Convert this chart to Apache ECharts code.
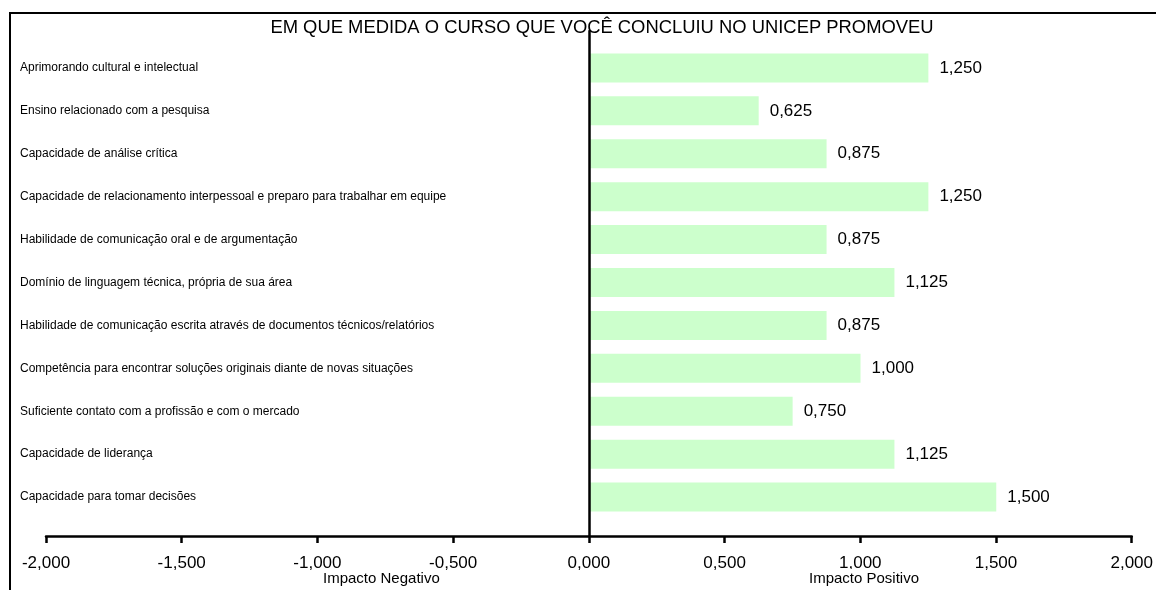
<!DOCTYPE html>
<html>
<head>
<meta charset="utf-8">
<script src="https://cdn.jsdelivr.net/npm/echarts@6/dist/echarts.min.js"></script>
<style>
  html, body { margin: 0; padding: 0; background: #fff; }
  #chart { width: 1156px; height: 590px; }
</style>
</head>
<body>
<div id="chart"></div>
<script>
// categorias (de cima para baixo)
var categorias = [
  'Aprimorando cultural e intelectual',
  'Ensino relacionado com a pesquisa',
  'Capacidade de análise crítica',
  'Capacidade de relacionamento interpessoal e preparo para trabalhar em equipe',
  'Habilidade de comunicação oral e de argumentação',
  'Domínio de linguagem técnica, própria de sua área',
  'Habilidade de comunicação escrita através de documentos técnicos/relatórios',
  'Competência para encontrar soluções originais diante de novas situações',
  'Suficiente contato com a profissão e com o mercado',
  'Capacidade de liderança',
  'Capacidade para tomar decisões'
];
var valores = [1.25, 0.625, 0.875, 1.25, 0.875, 1.125, 0.875, 1.0, 0.75, 1.125, 1.5];
var titulo = 'EM QUE MEDIDA O CURSO QUE VOCÊ CONCLUIU NO UNICEP PROMOVEU';
var eixoMin = -2, eixoMax = 2, eixoPasso = 0.5;
var rotulosEixo = ['Impacto Negativo', 'Impacto Positivo'];

var fonte = '"Liberation Sans", Arial, sans-serif';
function fmt(v) { return v.toFixed(3).replace('.', ','); }

var chart = echarts.init(document.getElementById('chart'));
chart.setOption({
  animation: false,
  textStyle: { fontFamily: fonte },
  title: {
    text: titulo,
    left: 602, top: 19, textAlign: 'center', padding: 0,
    textStyle: { fontSize: 18.4, fontWeight: 'normal', color: '#000', fontFamily: fonte }
  },
  grid: [
    { left: 46, right: 24, top: 46.5, bottom: 71.5 },   // barras
    { left: 46, right: 24, top: 31, bottom: 54 }        // eixos
  ],
  xAxis: [
    { gridIndex: 0, type: 'value', min: eixoMin, max: eixoMax, show: false },
    {
      gridIndex: 1, type: 'value', min: eixoMin, max: eixoMax, interval: eixoPasso, z: 5,
      axisLine: { show: true, lineStyle: { color: '#000', width: 2.5 } },
      axisTick: { show: true, length: 7, lineStyle: { color: '#000', width: 2.5 } },
      splitLine: { show: false },
      axisLabel: { color: '#000', fontSize: 17, margin: 19, formatter: fmt }
    }
  ],
  yAxis: [
    {
      gridIndex: 0, type: 'category', inverse: true, data: categorias,
      axisLine: { show: false }, axisTick: { show: false }, splitLine: { show: false },
      axisLabel: { color: '#000', fontSize: 12, align: 'left', margin: 26 }
    },
    {
      gridIndex: 1, type: 'value', min: 0, max: 1, z: 5,
      axisLine: { show: true, onZero: true, lineStyle: { color: '#000', width: 2.5 } },
      axisTick: { show: false }, axisLabel: { show: false }, splitLine: { show: false }
    }
  ],
  series: [{
    type: 'bar',
    xAxisIndex: 0, yAxisIndex: 0,
    data: valores,
    barWidth: 29,
    z: 1,
    itemStyle: { color: '#ccffcc' },
    label: {
      show: true, position: 'right', distance: 11,
      color: '#000', fontSize: 17,
      formatter: function (p) { return fmt(p.value); }
    }
  }],
  graphic: [
    {
      type: 'rect', silent: true, z: 100,
      shape: { x: 10, y: 13, width: 1300, height: 700 },
      style: { fill: null, stroke: '#000', lineWidth: 2 }
    },
    {
      type: 'text', left: 323, top: 569, z: 50,
      style: { text: rotulosEixo[0], font: '15px ' + fonte, fill: '#000',
               backgroundColor: '#fff', padding: [2, 0, 0, 0] }
    },
    {
      type: 'text', left: 809, top: 569, z: 50,
      style: { text: rotulosEixo[1], font: '15px ' + fonte, fill: '#000',
               backgroundColor: '#fff', padding: [2, 0, 0, 0] }
    }
  ]
});
</script>
</body>
</html>
